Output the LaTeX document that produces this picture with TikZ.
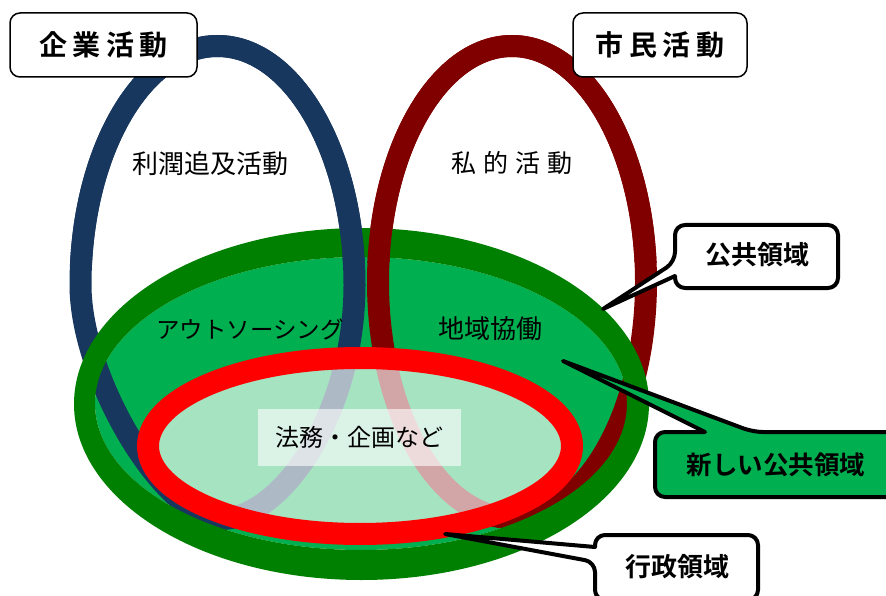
\documentclass[tikz,border=0pt]{standalone}
\usepackage{fontspec}
\setmainfont{Noto Sans CJK JP}[BoldFont={Noto Sans CJK JP Bold}]
\usetikzlibrary{calc}
\definecolor{navyline}{HTML}{17375E}
\definecolor{maroonline}{HTML}{800000}
\definecolor{bandgreen}{HTML}{008000}
\definecolor{fillgreen}{HTML}{00B050}
\newcommand{\kigyoring}{(217.5,46) .. controls (293.2,46) and (354.5,153) .. (354.5,285)
  .. controls (354.5,414) and (281,519) .. (221,519)
  .. controls (164.8,519) and (80.5,378.6) .. (80.5,285)
  .. controls (80.5,153) and (141.8,46) .. (217.5,46) -- cycle}
\newcommand{\shiminring}{(512,282) ellipse [x radius=134, y radius=236]}

\begin{document}
\begin{tikzpicture}[x=1pt,y=-1pt,
  ring/.style={line width=22pt},
  titlebox/.style={draw,line width=1.5pt,rounded corners=10pt,fill=white,minimum height=64pt,font=\bfseries\fontsize{28}{32}\selectfont},
  callout/.style={draw,line width=4pt,line join=round,fill=white},
  calloutlabel/.style={inner sep=0pt,font=\bfseries\fontsize{26}{30}\selectfont},
  areatext/.style={inner sep=0pt,font=\fontsize{26}{30}\selectfont}]
  \useasboundingbox (0,0) rectangle (886,596);
  % green area
  \fill[fillgreen] (361,403.5) ellipse [x radius=266, y radius=146.5];
  \draw[ring,navyline] \kigyoring;
  \draw[ring,maroonline] \shiminring;
  \fill[bandgreen,even odd rule] (361.5,404) ellipse [x radius=287.5, y radius=176]
    (361,403.5) ellipse [x radius=266, y radius=146.5];
  \begin{scope}
    \clip (0,0) rectangle (886,262);
    \draw[ring,navyline] \kigyoring;
    \draw[ring,maroonline] \shiminring;
  \end{scope}
  % gyosei area
  \draw[ring,red,fill=white,fill opacity=0.65] (360,446) ellipse [x radius=212, y radius=88];
  \node[fill=white,fill opacity=0.6,text opacity=1,minimum width=203pt,minimum height=57pt,
    inner sep=0pt,font=\fontsize{24}{28}\selectfont] (homu) at (359.5,437.5) {法務・企画など};

  \node[titlebox,minimum width=187pt] (kigyo) at (103.5,45) {\addfontfeature{LetterSpace=20}企業活動};
  \node[titlebox,minimum width=174pt] (shimin) at (660,45) {\addfontfeature{LetterSpace=20}市民活動};
  \node[areatext] (rijun) at (210,163.5) {利潤追及活動};
  \node[areatext,font=\fontsize{25}{30}\selectfont] (shiteki) at (512,163.5) {\addfontfeature{LetterSpace=28}私的活動};
  \node[areatext,font=\fontsize{23.5}{28}\selectfont] (outsrc) at (250,329) {アウトソーシング};
  \node[areatext] (chiiki) at (490,329) {地域協働};

  % callouts
  \coordinate (kokyotip) at (603,309);
  \draw[callout] (kokyotip) -- (675,276) [rounded corners=10pt] -- (675,288) -- (838,288)
    -- (838,225) -- (675,225) -- (675,262) [sharp corners] -- cycle;
  \node[calloutlabel] (kokyo) at (757,255) {公共領域};
  \coordinate (atarashiitip) at (563,361);
  \draw[callout,fill=fillgreen] (atarashiitip) -- (705,432) [rounded corners=10pt] -- (655,432)
    -- (655,497) -- (897,497) -- (897,432) -- (753,432) [sharp corners] -- cycle;
  \node[calloutlabel,font=\bfseries\fontsize{25.5}{30}\selectfont] (atarashii) at (776,465) {新しい公共領域};
  \coordinate (gyoseitip) at (445,534);
  \draw[callout] (gyoseitip) -- (595,547) [rounded corners=10pt] -- (595,535) -- (758,535)
    -- (758,600) -- (595,600) -- (595,562) [sharp corners] -- cycle;
  \node[calloutlabel] (gyosei) at (677,567) {行政領域};
\end{tikzpicture}
\end{document}
